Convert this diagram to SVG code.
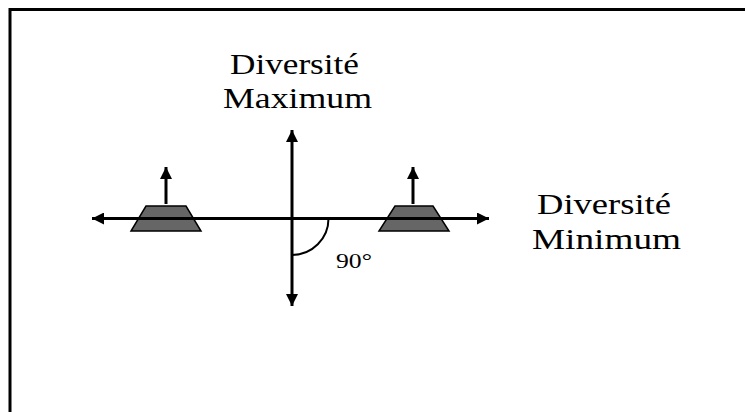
<svg xmlns="http://www.w3.org/2000/svg" width="745" height="412" viewBox="0 0 745 412">
<defs>
<marker id="ah" viewBox="0 0 10 10" refX="10" refY="5" markerWidth="4" markerHeight="4" orient="auto-start-reverse" markerUnits="strokeWidth">
<path d="M0,0 L10,5 L0,10 z" fill="#000"/>
</marker>
</defs>
<style>
.t{font-family:"Liberation Serif","Times New Roman",serif;fill:#000}
.ax{stroke:#000;stroke-width:3;fill:none}
.trap{fill:#666;stroke:#000;stroke-width:1.5}
</style>
<rect x="10" y="9.5" width="760" height="420" fill="#fff" stroke="#000" stroke-width="3"/>
<g id="trapLeft"><polygon class="trap" points="146,206 186,206 201,231 131,231"/></g>
<g id="trapRight"><polygon class="trap" points="395,206 433,206 449,231 379,231"/></g>
<g id="connectors">
<line class="ax" x1="292" y1="218.5" x2="92" y2="218.5" marker-end="url(#ah)"/>
<line class="ax" x1="292" y1="218.5" x2="489" y2="218.5" marker-end="url(#ah)"/>
<line class="ax" x1="292" y1="218.5" x2="292" y2="130" marker-end="url(#ah)"/>
<line class="ax" x1="292" y1="218.5" x2="292" y2="306" marker-end="url(#ah)"/>
<line class="ax" x1="166" y1="204" x2="166" y2="167" marker-end="url(#ah)"/>
<line class="ax" x1="413" y1="204" x2="413" y2="167" marker-end="url(#ah)"/>
<path d="M328.5,218.5 A36.5,36.5 0 0 1 292,255" stroke="#000" stroke-width="2" fill="none"/>
</g>
<g id="labelTop">
<text class="t" x="230" y="74" font-size="29" textLength="129" lengthAdjust="spacingAndGlyphs">Diversité</text>
<text class="t" x="223" y="108" font-size="29" textLength="149" lengthAdjust="spacingAndGlyphs">Maximum</text>
</g>
<g id="labelRight">
<text class="t" x="537" y="214" font-size="29" textLength="134" lengthAdjust="spacingAndGlyphs">Diversité</text>
<text class="t" x="532" y="249" font-size="29" textLength="149" lengthAdjust="spacingAndGlyphs">Minimum</text>
</g>
<g id="angle">
<text class="t" x="336" y="268" font-size="22" textLength="36" lengthAdjust="spacingAndGlyphs">90°</text>
</g>
</svg>
